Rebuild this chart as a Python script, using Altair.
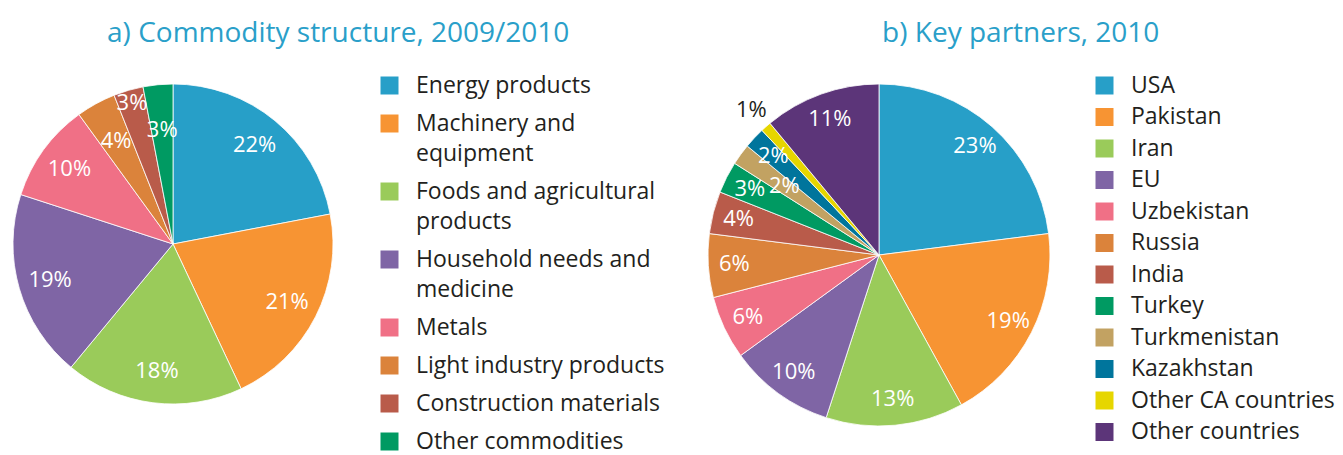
import altair as alt
import pandas as pd

FONT = "Open Sans"
TITLE_COLOR = "#2a9fc9"
TEXT_COLOR = "#231f20"

# ---- panel a data ----
a_title = "a) Commodity structure, 2009/2010"
a_cats = ["Energy products", "Machinery and equipment", "Foods and agricultural products",
          "Household needs and medicine", "Metals", "Light industry products",
          "Construction materials", "Other commodities"]
a_vals = [22, 21, 18, 19, 10, 4, 3, 3]
a_colors = ["#279fc8", "#f79433", "#9acb5a", "#7f65a5", "#f07086", "#db833b", "#b95b4a", "#009a62"]

# ---- panel b data ----
b_title = "b) Key partners, 2010"
b_cats = ["USA", "Pakistan", "Iran", "EU", "Uzbekistan", "Russia", "India", "Turkey",
          "Turkmenistan", "Kazakhstan", "Other CA countries", "Other countries"]
b_vals = [23, 19, 13, 10, 6, 6, 4, 3, 2, 2, 1, 11]
b_colors = ["#279fc8", "#f79433", "#9acb5a", "#7f65a5", "#f07086", "#db833b", "#b95b4a", "#009a62",
            "#c2a262", "#00759c", "#e6d600", "#5c3579"]

# ---- styling helpers (not data) ----
a_wrap = {
    "Machinery and equipment": ["Machinery and", "equipment"],
    "Foods and agricultural products": ["Foods and  agricultural", "products"],
    "Household needs and medicine": ["Household needs and", "medicine"],
}
b_wrap = {}
a_label_r = {"Construction materials": 147, "Light industry products": 118, "Other commodities": 115}
b_label_r = {"Turkmenistan": 117, "Other CA countries": 193}
b_dark_labels = ["Other CA countries"]


def js_str(s):
    return "'" + s.replace("'", "\\'") + "'"


def label_expr(wrap):
    expr = "datum.label"
    for k, lines in wrap.items():
        arr = "[" + ",".join(js_str(x) for x in lines) + "]"
        expr = f"datum.label === {js_str(k)} ? {arr} : ({expr})"
    return expr


def radius_expr(overrides, default):
    expr = str(default)
    for k, r in overrides.items():
        expr = f"datum.name === {js_str(k)} ? {r} : ({expr})"
    return expr


def panel(title, cats, vals, colors, R, label_r, overrides, wrap, dark, lx, ly, row_pad, t_off):
    df = pd.DataFrame({"name": cats, "share": vals, "idx": list(range(len(cats)))})
    df["label"] = [f"{v}%" for v in vals]
    arcs = alt.Chart(df).mark_arc(outerRadius=R, stroke="white", strokeWidth=0.8).encode(
        theta=alt.Theta("share:Q", stack=True),
        order=alt.Order("idx:Q"),
        color=alt.Color(
            "name:N",
            scale=alt.Scale(domain=cats, range=colors),
            legend=alt.Legend(
                title=None, orient="none", legendX=lx, legendY=ly, padding=0,
                symbolType="square", symbolSize=324, symbolStrokeWidth=0, symbolOpacity=1,
                labelFont=FONT, labelFontSize=23, labelColor=TEXT_COLOR, labelOffset=15,
                labelLimit=500, rowPadding=row_pad, labelExpr=label_expr(wrap),
            ),
        ),
    )
    dark_test = " || ".join(f"datum.name === {js_str(d)}" for d in dark) if dark else "false"
    text = alt.Chart(df).mark_text(font=FONT, fontSize=22).transform_window(
        cum="sum(share)", sort=[alt.SortField("idx")], frame=[None, 0]
    ).transform_calculate(
        mid="datum.cum - datum.share / 2",
        lr=radius_expr(overrides, label_r),
    ).encode(
        theta=alt.Theta("mid:Q", stack=None),
        radius=alt.Radius("lr:Q", scale=None),
        text="label:N",
        color=alt.condition(dark_test, alt.value(TEXT_COLOR), alt.value("white")),
    )
    return alt.layer(arcs, text).properties(
        width=2 * R, height=2 * R,
        title=alt.TitleParams(title, font=FONT, fontSize=28, fontWeight="normal",
                              color=TITLE_COLOR, anchor="middle", frame="bounds", offset=t_off),
    )


pa = panel(a_title, a_cats, a_vals, a_colors, 160, 128, a_label_r, a_wrap, [], 365, -10, 14, 26)
pb = panel(b_title, b_cats, b_vals, b_colors, 171, 145, b_label_r, b_wrap, b_dark_labels, 385, -10, 7.5, 26)

chart = alt.hconcat(pa, pb, spacing=375, bounds="flush").resolve_scale(
    color="independent", theta="independent"
).resolve_legend(color="independent").properties(
    padding={"left": 3, "top": 12, "right": 0, "bottom": 0}
).configure_view(stroke=None).configure(
    style={"guide-label": {"lineHeight": 30}}
)

chart.save("out.html", embed_options={"renderer": "svg", "actions": False})
